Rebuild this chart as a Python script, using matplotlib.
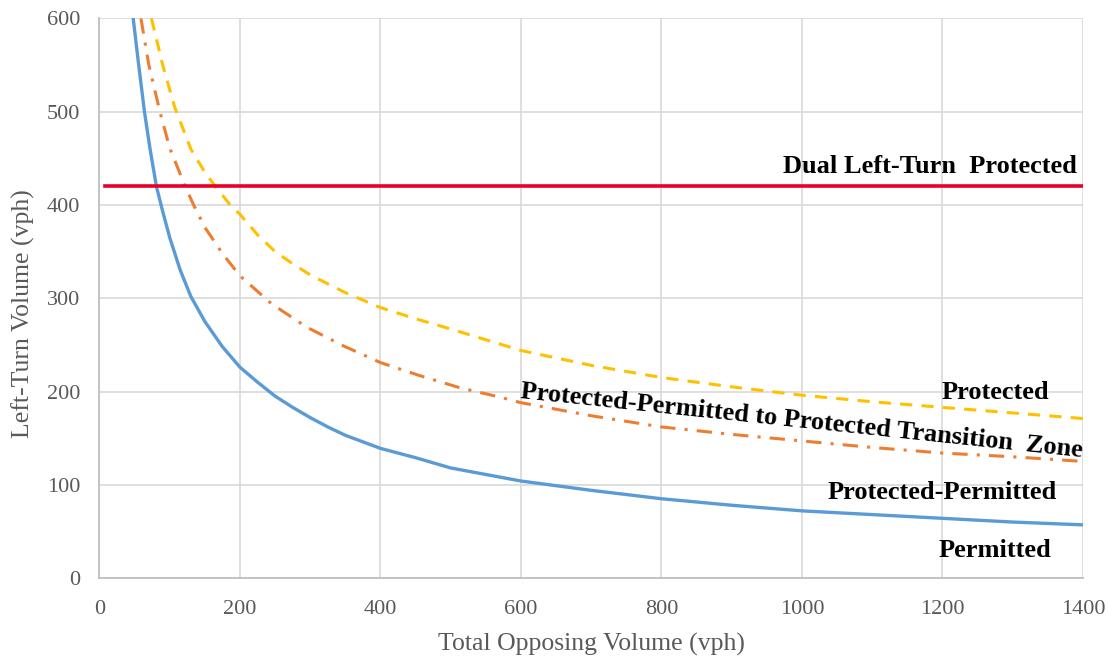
import matplotlib.pyplot as plt

# Permitted (blue, solid)
perm_x = [48, 55, 64, 72, 81, 90, 100, 115, 130, 150, 175, 200, 225, 250, 275, 300,
          325, 350, 400, 450, 500, 600, 700, 800, 900, 1000, 1100, 1200, 1300, 1400]
perm_y = [600, 555, 500, 460, 420, 393, 365, 330, 302, 275, 248, 226, 210, 195, 183, 172,
          162, 153, 139, 129, 118, 104, 94, 85, 78, 72, 68, 64, 60, 57]

# Protected-Permitted to Protected transition (orange, dash-dot)
trans_x = [59, 70, 86, 100, 122, 134, 150, 175, 200, 245, 295, 347, 400, 456,
           513, 570, 600, 700, 800, 900, 1000, 1100, 1200, 1300, 1400]
trans_y = [600, 551, 500, 461, 420, 400, 376, 348, 324, 294, 269, 249, 231, 217,
           204, 194, 188, 174, 162, 154, 147, 140, 134, 130, 125]

# Protected (yellow, dashed)
prot_x = [74, 90, 107, 130, 150, 165, 186, 200, 225, 250, 275, 300, 350, 400, 450,
          500, 600, 700, 800, 900, 1000, 1100, 1200, 1300, 1400]
prot_y = [600, 550, 505, 460, 435, 420, 400, 390, 368, 350, 337, 325, 306, 290, 278,
          267, 244, 228, 215, 205, 196, 189, 183, 177, 171]

# Dual left-turn protected threshold (red)
dual_x = [8, 1400]
dual_y = [420, 420]

plt.rcParams['font.family'] = ['Liberation Serif', 'DejaVu Serif']

fig = plt.figure(figsize=(11.08, 6.56), dpi=100)
ax = fig.add_axes([0.0898, 0.1189, 0.8876, 0.8529])

ax.plot(perm_x, perm_y, color='#5B9BD5', lw=2.4, solid_capstyle='round')
ax.plot(trans_x, trans_y, color='#ED7D31', lw=2.2, dashes=(5, 3, 1, 3))
ax.plot(prot_x, prot_y, color='#FFC000', lw=2.2, dashes=(4, 3))
ax.plot(dual_x, dual_y, color='#E8002A', lw=2.6)

ax.set_xlim(0, 1400)
ax.set_ylim(0, 600)
ax.set_xticks(range(0, 1401, 200))
ax.set_yticks(range(0, 601, 100))
ax.grid(True, color='#D9D9D9', lw=1.2)
ax.set_axisbelow(True)
for s in ['top', 'right']:
    ax.spines[s].set_visible(False)
for s in ['left', 'bottom']:
    ax.spines[s].set_color('#BFBFBF')
    ax.spines[s].set_linewidth(1.3)
ax.tick_params(length=0, labelsize=16, labelcolor='#595959', pad=14)
ax.tick_params(axis='x', pad=16)

ax.set_xlabel('Total Opposing Volume (vph)', fontsize=18.5, color='#595959', labelpad=10)
ax.set_ylabel('Left-Turn Volume (vph)', fontsize=18.5, color='#595959')
ax.yaxis.set_label_coords(-0.066, 0.472)

bold = dict(fontsize=19, fontweight='bold', color='black')
ax.text(1392, 441, 'Dual Left-Turn  Protected', ha='right', va='center', **bold)
ax.text(1276, 199, 'Protected', ha='center', va='center', **bold)
ax.text(599, 200, 'Protected-Permitted to Protected Transition  Zone', ha='left',
        va='center', rotation=-6, rotation_mode='anchor', **bold)
ax.text(1199, 92, 'Protected-Permitted', ha='center', va='center', **bold)
ax.text(1275, 30, 'Permitted', ha='center', va='center', **bold)

fig.savefig('out.png', dpi=100)
